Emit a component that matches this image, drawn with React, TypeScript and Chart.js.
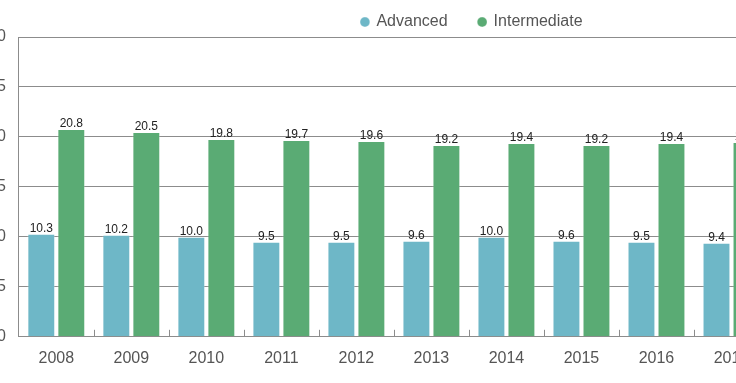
import React, { useEffect, useRef } from "react";
import { Chart, registerables } from "chart.js";

Chart.register(...registerables);

const years = ["2008", "2009", "2010", "2011", "2012", "2013", "2014", "2015", "2016", "2017"];
const advanced = [10.3, 10.2, 10.0, 9.5, 9.5, 9.6, 10.0, 9.6, 9.5, 9.4];
const intermediate = [20.8, 20.5, 19.8, 19.7, 19.6, 19.2, 19.4, 19.2, 19.4, 19.5];
const seriesNames = ["Advanced", "Intermediate"];
const yMin = 0;
const yMax = 30;
const yStep = 5;

const FONT = "'Liberation Sans', Arial, Helvetica, sans-serif";
const GRID = "#8c8c8c";
const TEXT = "#555555";

const valueLabels = {
  id: "valueLabels",
  afterDatasetsDraw(chart: any) {
    const ctx = chart.ctx;
    ctx.save();
    ctx.font = `12px ${FONT}`;
    ctx.fillStyle = "#222222";
    ctx.textAlign = "center";
    ctx.textBaseline = "alphabetic";
    chart.data.datasets.forEach((ds: any, di: number) => {
      const meta = chart.getDatasetMeta(di);
      meta.data.forEach((el: any, i: number) => {
        const v = ds.data[i];
        if (v === null || v === undefined) return;
        ctx.fillText(Number(v).toFixed(1), el.x, el.y - 2);
      });
    });
    ctx.restore();
  },
};

const innerTicks = {
  id: "innerTicks",
  afterDatasetsDraw(chart: any) {
    const ctx = chart.ctx;
    const xs = chart.scales.x;
    const bottom = chart.chartArea.bottom;
    ctx.save();
    ctx.strokeStyle = GRID;
    ctx.lineWidth = 1;
    ctx.beginPath();
    for (let i = 1; i < years.length; i++) {
      const x = Math.round((xs.getPixelForValue(i - 1) + xs.getPixelForValue(i)) / 2) + 0.5;
      ctx.moveTo(x, bottom);
      ctx.lineTo(x, bottom - 7);
    }
    ctx.stroke();
    ctx.restore();
  },
};

const legendNudge = {
  id: "legendNudge",
  afterLayout(chart: any) {
    const lg = chart.legend;
    if (lg) {
      lg.top += 3;
      lg.bottom += 3;
    }
  },
};

export default function App() {
  const ref = useRef<HTMLCanvasElement | null>(null);

  useEffect(() => {
    document.body.style.margin = "0";
    const canvas = ref.current;
    if (!canvas) return;
    const chart = new Chart(canvas, {
      type: "bar",
      data: {
        labels: years,
        datasets: [
          {
            label: seriesNames[0],
            data: advanced,
            backgroundColor: "#6eb7c7",
            borderColor: "rgba(255,255,255,0.3)",
            borderWidth: 1,
            categoryPercentage: 0.8,
            barPercentage: 0.93,
          },
          {
            label: seriesNames[1],
            data: intermediate,
            backgroundColor: "#5aab74",
            borderColor: "rgba(255,255,255,0.3)",
            borderWidth: 1,
            categoryPercentage: 0.8,
            barPercentage: 0.93,
          },
        ],
      },
      options: {
        responsive: false,
        animation: false,
        layout: { padding: { top: -20, bottom: 3, left: 0, right: 0 } },
        plugins: {
          tooltip: { enabled: false },
          legend: {
            position: "top",
            labels: {
              usePointStyle: true,
              pointStyle: "circle",
              boxWidth: 7,
              boxHeight: 7,
              padding: 31,
              color: TEXT,
              font: { family: FONT, size: 16 },
            },
          },
        },
        scales: {
          x: {
            grid: { display: false, drawTicks: false },
            border: { display: true, color: GRID, width: 1 },
            ticks: { color: TEXT, padding: 12, font: { family: FONT, size: 16 } },
          },
          y: {
            min: yMin,
            max: yMax,
            grid: { color: GRID, drawTicks: false },
            border: { display: true, color: GRID, width: 1 },
            ticks: { stepSize: yStep, color: TEXT, padding: 13, font: { family: FONT, size: 16 } },
          },
          yR: {
            type: "linear",
            position: "right",
            display: true,
            grid: { display: false, drawTicks: false },
            border: { display: false },
            ticks: { display: false },
            afterFit: (s: any) => {
              s.width = 200;
            },
          },
        },
      },
      plugins: [valueLabels, innerTicks, legendNudge],
    } as any);
    return () => chart.destroy();
  }, []);

  return (
    <div
      style={{
        position: "fixed",
        left: 0,
        top: 0,
        width: 736,
        height: 383,
        overflow: "hidden",
        background: "#ffffff",
      }}
    >
      <canvas
        ref={ref}
        width={994}
        height={383}
        style={{ position: "absolute", left: -25, top: 0, width: 994, height: 383 }}
      />
    </div>
  );
}
